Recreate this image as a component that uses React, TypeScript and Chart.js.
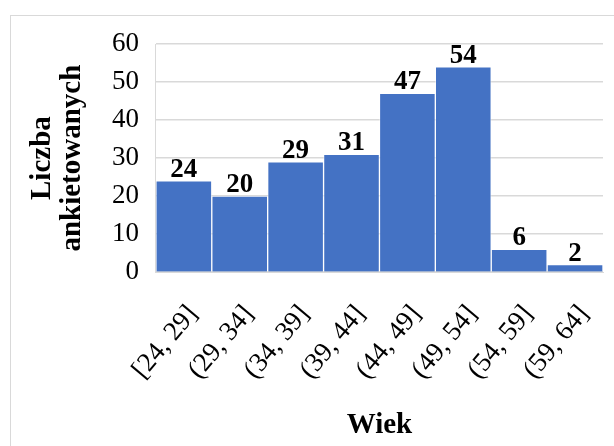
import React, { useEffect, useRef } from "react";
import { Chart, registerables } from "chart.js";

Chart.register(...registerables);

const categories = ["[24, 29]", "(29, 34]", "(34, 39]", "(39, 44]", "(44, 49]", "(49, 54]", "(54, 59]", "(59, 64]"];
const counts = [24, 20, 29, 31, 47, 54, 6, 2];
const yTicks = [0, 10, 20, 30, 40, 50, 60];
const yTitle = ["Liczba", "ankietowanych"];
const xTitle = "Wiek";

const FONT = "'Liberation Serif', 'Times New Roman', serif";

const valueLabels = {
  id: "valueLabels",
  afterDatasetsDraw(chart: any) {
    const ctx = chart.ctx;
    const meta = chart.getDatasetMeta(0);
    ctx.save();
    ctx.font = `bold 27px ${FONT}`;
    ctx.fillStyle = "#000";
    ctx.textAlign = "center";
    ctx.textBaseline = "alphabetic";
    meta.data.forEach((bar: any, i: number) => {
      ctx.fillText(String(chart.data.datasets[0].data[i]), bar.x, bar.y - 4);
    });
    ctx.restore();
  },
};

export default function App() {
  const ref = useRef<HTMLCanvasElement | null>(null);
  useEffect(() => {
    if (!ref.current) return;
    const chart = new Chart(ref.current, {
      type: "bar",
      data: {
        labels: categories,
        datasets: [
          {
            data: counts,
            backgroundColor: "#4472C4",
            borderColor: "rgba(255,255,255,0.45)",
            borderWidth: 1,
            barPercentage: 1,
            categoryPercentage: 1,
          },
        ],
      },
      options: {
        animation: false,
        responsive: false,
        layout: { padding: { left: 27, right: 11, top: 44, bottom: 1 } },
        plugins: { legend: { display: false }, tooltip: { enabled: false } },
        scales: {
          x: {
            afterFit: (scale: any) => {
              scale.paddingLeft = 0;
              scale.paddingRight = 0;
              scale.height = scale.height - 7;
            },
            grid: { display: false, drawTicks: false },
            border: { display: true, color: "#d9d9d9" },
            ticks: {
              color: "#000",
              font: { family: FONT, size: 27 },
              minRotation: 50,
              maxRotation: 50,
              padding: 27,
              labelOffset: 9,
            },
            title: {
              display: true,
              text: xTitle,
              color: "#000",
              font: { family: FONT, size: 29, weight: "bold", lineHeight: 1.05 },
              padding: { top: 5, bottom: 4 },
            },
          },
          y: {
            min: 0,
            max: 60,
            afterBuildTicks: (scale: any) => {
              scale.ticks = yTicks.map((v) => ({ value: v }));
            },
            grid: { color: "#d9d9d9", lineWidth: 1.5, drawTicks: false },
            border: { display: true, color: "#d9d9d9" },
            ticks: {
              color: "#000",
              font: { family: FONT, size: 27 },
              padding: 17,
            },
            title: {
              display: true,
              text: yTitle,
              color: "#000",
              font: { family: FONT, size: 29, weight: "bold", lineHeight: 1.05 },
              padding: { top: 0, bottom: 7 },
            },
          },
        },
      },
      plugins: [valueLabels],
    });
    return () => chart.destroy();
  }, []);
  return (
    <div style={{ position: "fixed", left: 0, top: 0, width: 614, height: 446, background: "#fff", overflow: "hidden" }}>
      <div
        style={{
          position: "absolute",
          left: 10,
          top: 15,
          width: 640,
          height: 480,
          border: "1px solid #d9d9d9",
          boxSizing: "border-box",
        }}
      />
      <canvas ref={ref} width={614} height={446} style={{ position: "absolute", left: 0, top: 0 }} />
    </div>
  );
}
